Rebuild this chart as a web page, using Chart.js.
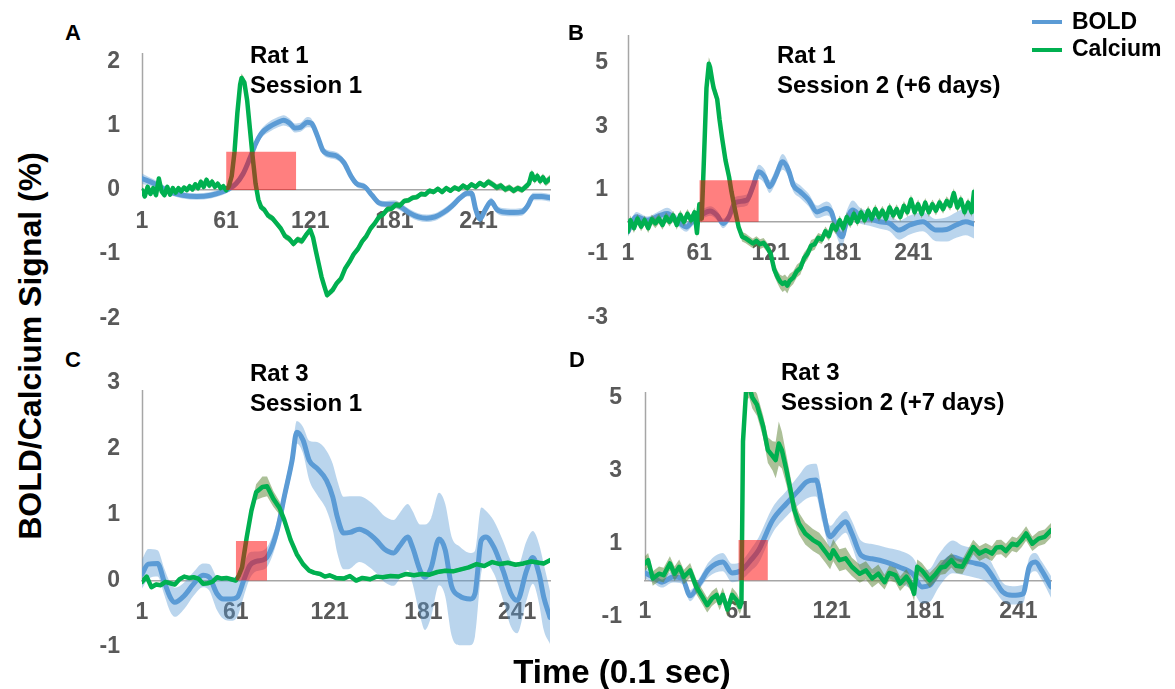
<!DOCTYPE html>
<html><head><meta charset="utf-8">
<script src="https://cdn.jsdelivr.net/npm/chart.js@4.4.0/dist/chart.umd.min.js"></script>
<style>
html,body{margin:0;padding:0;background:#fff;}
body{width:1175px;height:689px;overflow:hidden;position:relative;font-family:"Liberation Sans",Arial,sans-serif;}
canvas{position:absolute;}
.t{position:absolute;font-weight:bold;color:#000;white-space:nowrap;}
.letter{font-size:22px;line-height:20px;}
.ttl{font-size:24px;line-height:30px;}
.leg{font-size:23px;line-height:30px;left:1072px;}
.legline{position:absolute;left:1032px;width:30px;height:4px;}
</style></head><body>

<canvas id="cA" width="478" height="311" style="left:82px;top:30px"></canvas>
<canvas id="cB" width="416" height="325" style="left:568px;top:12px"></canvas>
<canvas id="cC" width="478" height="311" style="left:82px;top:360px"></canvas>
<canvas id="cD" width="476" height="274" style="left:585px;top:362px"></canvas>

<div class="t letter" style="left:65px;top:23px">A</div>
<div class="t letter" style="left:568px;top:23px">B</div>
<div class="t letter" style="left:65px;top:350px">C</div>
<div class="t letter" style="left:569px;top:350px">D</div>

<div class="t ttl" style="left:250px;top:40px">Rat 1<br>Session 1</div>
<div class="t ttl" style="left:777px;top:40px">Rat 1<br>Session 2 (+6 days)</div>
<div class="t ttl" style="left:250px;top:358px">Rat 3<br>Session 1</div>
<div class="t ttl" style="left:781px;top:357px">Rat 3<br>Session 2 (+7 days)</div>

<div class="legline" style="top:20px;background:#5b9bd5"></div>
<div class="t leg" style="top:6px">BOLD</div>
<div class="legline" style="top:48px;background:#00b050"></div>
<div class="t leg" style="top:33px">Calcium</div>

<div class="t" style="left:422px;top:652px;width:400px;text-align:center;font-size:33px;line-height:40px">Time (0.1 sec)</div>
<div class="t" style="left:-220px;top:326px;width:500px;text-align:center;font-size:32px;line-height:40px;transform:rotate(-90deg)">BOLD/Calcium Signal (%)</div>

<script>
// ---------- tick labels ----------
const xTickValues = [1, 61, 121, 181, 241];
const yTicksA = [2, 1, 0, -1, -2];
const yTicksB = [5, 3, 1, -1, -3];
const yTicksC = [3, 2, 1, 0, -1];
const yTicksD = [5, 3, 1, -1];

// ---------- stimulus boxes (time start, time end, height) ----------
const stimStart = [61, 61, 61, 61];
const stimEnd = [111, 111, 81, 80];
const stimHeight = [0.6, 1.3, 0.6, 1.1];

// ---------- Panel A : Rat 1 Session 1 ----------
const tA_bold = [1,10,20,30,40,50,58,63,68,73, 78,82,86,92,98,102,106,110,114,119, 122,126,130,134,140,145,150,154,160,165, 170,175,181,186,192,198,204,210,216,222, 228,233,236,239,242,246,250,254,258,266, 272,276,280,286,292];
const vA_bold = [0.18,0.1,-0.02,-0.08,-0.1,-0.08,-0.03,0.02,0.1,0.25, 0.5,0.72,0.88,0.99,1.06,1.09,1.05,0.97,0.98,1.06, 1.04,0.85,0.62,0.56,0.53,0.43,0.22,0.1,0.05,-0.08, -0.2,-0.22,-0.22,-0.27,-0.36,-0.42,-0.44,-0.42,-0.35,-0.25, -0.12,-0.05,-0.05,-0.3,-0.45,-0.3,-0.18,-0.3,-0.34,-0.35, -0.34,-0.25,-0.1,-0.1,-0.12];
const eA_bold = [0.08,0.06,0.05,0.05,0.05,0.05,0.05,0.05,0.05,0.05, 0.06,0.07,0.07,0.08,0.08,0.08,0.07,0.07,0.07,0.08, 0.07,0.07,0.06,0.06,0.06,0.06,0.06,0.05,0.05,0.05, 0.05,0.05,0.06,0.06,0.06,0.06,0.06,0.06,0.06,0.06, 0.05,0.05,0.05,0.06,0.06,0.06,0.06,0.06,0.06,0.06, 0.06,0.06,0.06,0.06,0.06];

const tA_ca = [1,3,5,7,9,11,13,15,17,19, 21,23,25,27,29,31,33,35,37,39, 41,43,45,47,49,51,53,55,57,59, 61,63,65,67,69,71,72,74,76,78, 80,82,84,86,88,91,94,97,100,103, 106,109,112,115,118,121,123,125,127,129, 131,133,135,137,140,143,146,149,152,155, 158,161,164,167,170,173,176,179,182,185, 188,191,194,197,200,203,206,209,212,215, 218,221,224,227,230,233,236,239,242,245, 248,251,254,257,260,263,266,269,272,275, 277,279,281,283,285,287,289,292];
const vA_ca = [0.0,-0.1,0.05,-0.06,0.03,-0.08,0.18,-0.02,-0.08,0.05, -0.07,0.03,-0.04,0.03,-0.02,0.04,0.0,0.06,0.01,0.09, 0.03,0.13,0.05,0.16,0.07,0.13,0.05,0.1,0.03,0.06, 0.0,0.06,0.22,0.6,1.2,1.65,1.75,1.68,1.4,0.95, 0.5,0.1,-0.15,-0.27,-0.3,-0.4,-0.44,-0.52,-0.6,-0.72, -0.76,-0.84,-0.77,-0.8,-0.7,-0.62,-0.74,-0.95,-1.15,-1.35, -1.5,-1.64,-1.6,-1.56,-1.45,-1.38,-1.22,-1.12,-1.0,-0.92, -0.8,-0.72,-0.6,-0.52,-0.42,-0.38,-0.3,-0.29,-0.23,-0.24, -0.17,-0.16,-0.12,-0.11,-0.06,-0.07,-0.01,-0.03,0.02,-0.03, 0.03,-0.01,0.04,0.01,0.07,0.03,0.09,0.05,0.11,0.07, 0.13,0.09,0.04,0.07,0.01,0.04,-0.01,0.03,0.0,0.06, 0.1,0.26,0.16,0.22,0.14,0.2,0.12,0.18];
const eA_ca = [0.04,0.04,0.04,0.04,0.04,0.04,0.04,0.04,0.04,0.04, 0.04,0.04,0.04,0.04,0.04,0.04,0.04,0.04,0.04,0.04, 0.05,0.05,0.05,0.05,0.05,0.05,0.05,0.04,0.04,0.04, 0.04,0.04,0.05,0.06,0.07,0.07,0.07,0.07,0.06,0.06, 0.05,0.05,0.05,0.05,0.05,0.05,0.05,0.05,0.05,0.05, 0.05,0.05,0.05,0.05,0.05,0.05,0.05,0.05,0.05,0.05, 0.05,0.05,0.05,0.05,0.05,0.05,0.05,0.05,0.05,0.05, 0.05,0.05,0.05,0.05,0.05,0.05,0.05,0.05,0.05,0.05, 0.04,0.04,0.04,0.04,0.04,0.04,0.04,0.04,0.04,0.04, 0.04,0.04,0.04,0.04,0.04,0.04,0.04,0.04,0.04,0.04, 0.05,0.05,0.05,0.05,0.05,0.05,0.05,0.05,0.05,0.05, 0.06,0.06,0.06,0.06,0.06,0.06,0.06,0.06];

// ---------- Panel B : Rat 1 Session 2 ----------
const tB_bold = [1,8,17,28,34,42,50,56,62,70, 76,81,86,91,101,106,111,116,120,125, 131,136,140,146,153,160,168,172,176,181, 185,190,196,204,213,221,229,238,249,260, 269,277,285,292];
const vB_bold = [-0.31,0.16,0.05,0.2,0.26,0.05,-0.16,0.05,0.2,0.34, 0.2,-0.05,0.16,0.6,0.68,1.1,1.57,1.41,1.1,1.41, 1.88,1.62,1.15,0.94,0.68,0.31,0.42,0.31,-0.16,-0.47, 0.05,0.37,0.2,0.1,0.0,-0.05,-0.26,-0.1,0.0,-0.26, -0.24,-0.1,0.0,-0.07];
const eB_bold = [0.15,0.15,0.12,0.15,0.18,0.15,0.15,0.15,0.15,0.15, 0.15,0.15,0.15,0.18,0.18,0.2,0.22,0.22,0.2,0.22, 0.25,0.22,0.2,0.2,0.2,0.2,0.22,0.22,0.25,0.3, 0.3,0.3,0.25,0.22,0.22,0.25,0.3,0.3,0.3,0.35, 0.38,0.4,0.42,0.45];

const tB_ca = [1,3,6,9,12,15,18,21,24,27, 30,33,36,39,42,45,48,51,54,57, 59,61,63,65,67,69,70,72,73,76, 78,80,83,86,88,91,94,97,100,103, 106,109,112,115,118,121,124,127,129,131, 133,135,137,140,143,146,149,152,155,158, 161,164,167,170,173,176,179,182,185,188, 191,194,197,200,203,206,209,212,215,218, 221,224,227,230,233,236,239,242,245,248, 251,254,257,260,263,266,269,272,275,278, 281,284,287,290,292];
const vB_ca = [-0.3,0.05,-0.2,0.1,-0.15,0.05,-0.2,0.08,-0.05,0.1, -0.1,0.15,0.0,0.2,-0.1,0.22,0.0,0.25,0.05,0.3, -0.35,0.55,0.1,2.1,4.2,4.96,4.85,4.4,4.2,3.85, 3.2,2.66,1.93,1.41,0.95,0.37,-0.16,-0.47,-0.52,-0.6, -0.68,-0.6,-0.7,-0.66,-0.8,-1.0,-1.5,-1.75,-1.88,-1.95, -1.9,-2.0,-1.85,-1.75,-1.55,-1.45,-1.15,-1.0,-0.75,-0.7, -0.5,-0.55,-0.3,-0.45,-0.1,-0.25,0.05,-0.2,0.15,-0.05, 0.25,0.0,0.3,0.05,0.35,0.1,0.4,0.15,0.35,0.1, 0.45,0.2,0.4,0.15,0.5,0.3,0.7,0.3,0.55,0.25, 0.6,0.3,0.55,0.35,0.6,0.4,0.65,0.5,0.9,0.45, 0.7,0.3,0.6,0.3,0.94];
const eB_ca = [0.15,0.15,0.15,0.15,0.15,0.15,0.15,0.15,0.15,0.15, 0.15,0.15,0.15,0.15,0.15,0.15,0.15,0.15,0.15,0.15, 0.15,0.15,0.15,0.2,0.2,0.2,0.2,0.2,0.2,0.2, 0.2,0.2,0.15,0.15,0.15,0.15,0.15,0.15,0.15,0.15, 0.15,0.15,0.15,0.15,0.15,0.2,0.2,0.2,0.22,0.25, 0.25,0.25,0.22,0.2,0.2,0.2,0.18,0.18,0.18,0.18, 0.15,0.15,0.15,0.15,0.15,0.15,0.15,0.15,0.15,0.15, 0.15,0.15,0.15,0.15,0.15,0.15,0.15,0.15,0.15,0.15, 0.15,0.15,0.15,0.15,0.15,0.15,0.15,0.15,0.15,0.15, 0.15,0.15,0.15,0.15,0.15,0.15,0.15,0.15,0.15,0.15, 0.15,0.15,0.15,0.15,0.15];

// ---------- Panel C : Rat 3 Session 1 ----------
const tC_bold = [1,5,11,15,19,22,28,34,40,44, 49,53,58,62,66,70,74,80,84,88, 92,97,100,104,108,113,119,123,126,130, 134,140,145,151,156,162,166,171,174,179, 182,186,191,195,199,204,211,214,218,221, 226,232,237,241,247,251,255,258,262];
const vC_bold = [0.1,0.25,0.26,0.0,-0.25,-0.33,-0.23,-0.05,0.08,0.05, -0.2,-0.28,-0.28,-0.25,0.0,0.23,0.29,0.33,0.5,0.81, 1.27,1.82,2.25,2.13,1.82,1.7,1.52,1.27,0.96,0.72, 0.73,0.78,0.73,0.61,0.48,0.42,0.53,0.66,0.51,0.15, 0.05,0.2,0.63,0.46,-0.08,-0.23,-0.28,-0.2,0.61,0.66, 0.51,0.15,-0.2,-0.3,0.15,0.35,0.1,-0.25,-0.56];
const eC_bold = [0.22,0.23,0.2,0.2,0.22,0.22,0.2,0.18,0.18,0.2, 0.25,0.3,0.33,0.3,0.25,0.2,0.15,0.15,0.15,0.15, 0.15,0.15,0.17,0.2,0.3,0.4,0.45,0.5,0.55,0.55, 0.55,0.5,0.5,0.5,0.5,0.5,0.5,0.5,0.55,0.7, 0.8,0.75,0.7,0.7,0.75,0.75,0.7,0.65,0.5,0.4, 0.4,0.45,0.5,0.5,0.45,0.4,0.45,0.5,0.4];

const tC_ca = [1,4,7,10,13,16,19,22,25,28, 31,34,37,40,43,46,49,52,55,58, 61,63,65,68,71,74,78,81,85,89, 92,96,100,104,108,111,115,118,121,125, 130,134,138,142,147,151,155,160,165,170, 175,180,185,190,195,200,205,210,215,220, 225,230,235,240,245,250,255,258,262];
const vC_ca = [-0.02,0.06,-0.1,-0.06,-0.07,-0.02,-0.04,-0.06,0.02,0.06, 0.04,0.05,0.03,-0.05,-0.04,-0.02,0.05,0.03,0.04,0.02, 0.0,0.08,0.2,0.66,1.06,1.34,1.42,1.43,1.24,1.1, 0.92,0.62,0.4,0.25,0.15,0.12,0.1,0.06,0.08,0.04, 0.03,0.07,0.0,0.04,0.02,0.06,0.05,0.07,0.06,0.1, 0.08,0.1,0.09,0.13,0.15,0.14,0.17,0.2,0.25,0.22, 0.28,0.25,0.27,0.24,0.26,0.29,0.27,0.26,0.31];
const eC_ca = [0.03,0.03,0.03,0.03,0.03,0.03,0.03,0.03,0.03,0.03, 0.03,0.03,0.03,0.03,0.03,0.03,0.03,0.03,0.03,0.03, 0.03,0.03,0.04,0.06,0.08,0.12,0.16,0.15,0.12,0.1, 0.07,0.05,0.04,0.03,0.03,0.03,0.03,0.03,0.03,0.03, 0.03,0.03,0.03,0.03,0.03,0.03,0.03,0.03,0.03,0.03, 0.03,0.03,0.03,0.03,0.03,0.03,0.03,0.03,0.03,0.03, 0.03,0.03,0.03,0.03,0.03,0.03,0.03,0.03,0.03];

// ---------- Panel D : Rat 3 Session 2 ----------
const tD_bold = [1,6,12,19,25,30,36,42,51,57, 63,69,74,83,92,100,105,111,115,120, 125,130,134,140,147,156,164,173,179,184, 190,199,205,214,220,226,231,237,244,248, 252,256,262];
const vD_bold = [0.2,0.09,-0.05,0.09,0.05,-0.42,-0.09,0.3,0.5,0.2, 0.27,0.55,0.82,1.64,2.1,2.47,2.69,2.74,2.0,1.19, 1.42,1.6,1.28,0.68,0.59,0.5,0.37,0.18,-0.18,-0.14, 0.27,0.64,0.55,0.46,0.37,0.0,-0.32,-0.41,-0.37,0.37, 0.5,0.27,-0.18];
const eD_bold = [0.15,0.15,0.15,0.15,0.15,0.15,0.15,0.2,0.25,0.25, 0.25,0.3,0.35,0.35,0.35,0.4,0.45,0.45,0.4,0.3, 0.3,0.3,0.35,0.4,0.4,0.4,0.45,0.45,0.45,0.45, 0.45,0.45,0.4,0.4,0.4,0.3,0.25,0.25,0.25,0.25, 0.25,0.25,0.3];

const tD_ca = [1,3,6,10,13,17,20,23,26,30, 34,38,41,44,47,49,51,54,57,60, 62,63,64,66,68,70,73,77,80,83, 85,87,89,92,95,97,100,104,109,113, 117,120,122,126,130,134,139,143,147,151, 155,158,162,165,169,172,174,176,179,184, 188,191,194,198,201,205,208,212,216,220, 224,227,230,233,237,240,243,246,250,254, 258,262];
const vD_ca = [0.46,0.55,0.05,0.18,0.14,0.46,0.18,0.37,0.09,0.27, -0.18,-0.46,-0.68,-0.5,-0.4,-0.62,-0.4,-0.8,-0.4,-0.55, -0.73,-0.6,3.8,5.2,5.3,5.0,4.8,4.2,3.56,3.4, 3.29,3.74,3.56,3.0,2.37,1.92,1.55,1.28,1.1,1.0, 0.78,0.6,0.82,0.55,0.6,0.37,0.18,0.27,0.05,0.18, -0.05,0.2,0.14,-0.09,0.1,-0.1,-0.37,0.37,0.27,0.0, 0.18,0.35,0.37,0.55,0.4,0.37,0.6,0.91,0.73,0.82, 0.73,0.9,0.91,0.8,1.0,0.96,1.1,1.28,1.0,1.14, 1.19,1.37];
const eD_ca = [0.2,0.2,0.2,0.2,0.2,0.2,0.2,0.2,0.2,0.2, 0.2,0.2,0.2,0.2,0.2,0.2,0.2,0.2,0.2,0.2, 0.2,0.2,0.3,0.3,0.3,0.3,0.3,0.3,0.35,0.4, 0.5,0.6,0.5,0.4,0.35,0.3,0.3,0.3,0.3,0.3, 0.3,0.3,0.3,0.3,0.3,0.25,0.25,0.25,0.25,0.25, 0.2,0.2,0.2,0.2,0.2,0.2,0.2,0.2,0.2,0.2, 0.2,0.2,0.2,0.2,0.2,0.2,0.2,0.2,0.2,0.2, 0.2,0.2,0.2,0.2,0.2,0.2,0.2,0.2,0.2,0.2, 0.2,0.2];

// ---------- drawing ----------
const FONT = "'Liberation Sans', Arial, sans-serif";
Chart.defaults.font.family = FONT;
const BOLD_COLOR = '#5b9bd5';
const BOLD_BAND = 'rgba(91,155,213,0.42)';
const CA_COLOR = '#00b050';
const CA_BAND = 'rgba(90,130,50,0.5)';
const AXIS_GRAY = '#a6a6a6';
const LABEL_GRAY = '#595959';

function pts(t, v) { return t.map((x, i) => ({x: x, y: v[i]})); }
function bandPts(t, v, e, s) { return t.map((x, i) => ({x: x, y: v[i] + s * e[i]})); }

const yAxisLine = {
  id: 'yAxisLine',
  beforeDatasetsDraw(chart) {
    const {ctx, chartArea, scales} = chart;
    const px = Math.round(scales.x.getPixelForValue(scales.x.min)) + 0.5;
    ctx.save();
    ctx.strokeStyle = AXIS_GRAY;
    ctx.lineWidth = 1.5;
    ctx.beginPath();
    ctx.moveTo(px, chartArea.top);
    ctx.lineTo(px, scales.y.getPixelForValue(0));
    ctx.stroke();
    ctx.restore();
  }
};

function panel(id, p) {
  const hidden = 'rgba(0,0,0,0)';
  const datasets = [
    {data: bandPts(p.bt, p.bv, p.be, 1), fill: '+1', backgroundColor: BOLD_BAND, borderColor: hidden, borderWidth: 0, pointRadius: 0, cubicInterpolationMode: 'monotone', order: 6},
    {data: bandPts(p.bt, p.bv, p.be, -1), fill: false, borderColor: hidden, borderWidth: 0, pointRadius: 0, cubicInterpolationMode: 'monotone', order: 5},
    {data: pts(p.bt, p.bv), fill: false, borderColor: BOLD_COLOR, borderWidth: 5, pointRadius: 0, cubicInterpolationMode: 'monotone', borderJoinStyle: 'round', borderCapStyle: 'round', order: 4},
    {data: bandPts(p.ct, p.cv, p.ce, 1), fill: '+1', backgroundColor: CA_BAND, borderColor: hidden, borderWidth: 0, pointRadius: 0, order: 3},
    {data: bandPts(p.ct, p.cv, p.ce, -1), fill: false, borderColor: hidden, borderWidth: 0, pointRadius: 0, order: 2},
    {data: pts(p.ct, p.cv), fill: false, borderColor: CA_COLOR, borderWidth: 4.5, pointRadius: 0, borderJoinStyle: 'round', borderCapStyle: 'round', order: 1},
    {data: [{x: p.s0, y: 0}, {x: p.s0, y: p.sh}, {x: p.s1, y: p.sh}, {x: p.s1, y: 0}], fill: 'origin', backgroundColor: 'rgba(255,0,0,0.5)', borderColor: hidden, borderWidth: 0, pointRadius: 0, order: 0}
  ];
  new Chart(document.getElementById(id), {
    type: 'line',
    data: {datasets: datasets},
    options: {
      responsive: false,
      animation: false,
      events: [],
      layout: {padding: p.pad},
      plugins: {legend: {display: false}, tooltip: {enabled: false}},
      scales: {
        x: {
          type: 'linear', min: 1, max: p.xmax, position: {y: 0},
          grid: {display: false, drawTicks: false},
          border: {display: true, color: AXIS_GRAY, width: 1.5},
          afterBuildTicks: s => { s.ticks = xTickValues.map(v => ({value: v})); },
          afterFit: s => { s.height = 0; s.paddingLeft = 0; s.paddingRight = 0; },
          ticks: {color: LABEL_GRAY, font: {size: 23, weight: 'bold'}, padding: 18, maxRotation: 0, autoSkip: false, callback: v => String(v)}
        },
        y: {
          type: 'linear', min: p.ymin, max: p.ymax, position: 'left',
          grid: {display: false, drawTicks: false},
          border: {display: false},
          afterBuildTicks: s => { s.ticks = p.yticks.map(v => ({value: v})); },
          afterFit: s => { s.width = 60; s.paddingTop = 0; s.paddingBottom = 0; },
          ticks: {color: LABEL_GRAY, font: {size: 23, weight: 'bold'}, padding: p.ypad, autoSkip: false, callback: v => String(v)}
        }
      }
    },
    plugins: [yAxisLine]
  });
}

panel('cA', {bt: tA_bold, bv: vA_bold, be: eA_bold, ct: tA_ca, cv: vA_ca, ce: eA_ca,
  s0: stimStart[0], s1: stimEnd[0], sh: stimHeight[0], xmax: 292, ymin: -2.2, ymax: 2.14, yticks: yTicksA, ypad: 22,
  pad: {top: 23, right: 10, bottom: 10, left: 0}});
panel('cB', {bt: tB_bold, bv: vB_bold, be: eB_bold, ct: tB_ca, cv: vB_ca, ce: eB_ca,
  s0: stimStart[1], s1: stimEnd[1], sh: stimHeight[1], xmax: 292, ymin: -3.3, ymax: 5.86, yticks: yTicksB, ypad: 20,
  pad: {top: 23, right: 10, bottom: 10, left: 0}});
panel('cC', {bt: tC_bold, bv: vC_bold, be: eC_bold, ct: tC_ca, cv: vC_ca, ce: eC_ca,
  s0: stimStart[2], s1: stimEnd[2], sh: stimHeight[2], xmax: 262, ymin: -1.25, ymax: 2.89, yticks: yTicksC, ypad: 22,
  pad: {top: 30, right: 10, bottom: 8, left: 0}});
panel('cD', {bt: tD_bold, bv: vD_bold, be: eD_bold, ct: tD_ca, cv: vD_ca, ce: eD_ca,
  s0: stimStart[3], s1: stimEnd[3], sh: stimHeight[3], xmax: 262, ymin: -1.25, ymax: 5.15, yticks: yTicksD, ypad: 23,
  pad: {top: 30, right: 10, bottom: 10, left: 0}});
</script>
</body></html>
